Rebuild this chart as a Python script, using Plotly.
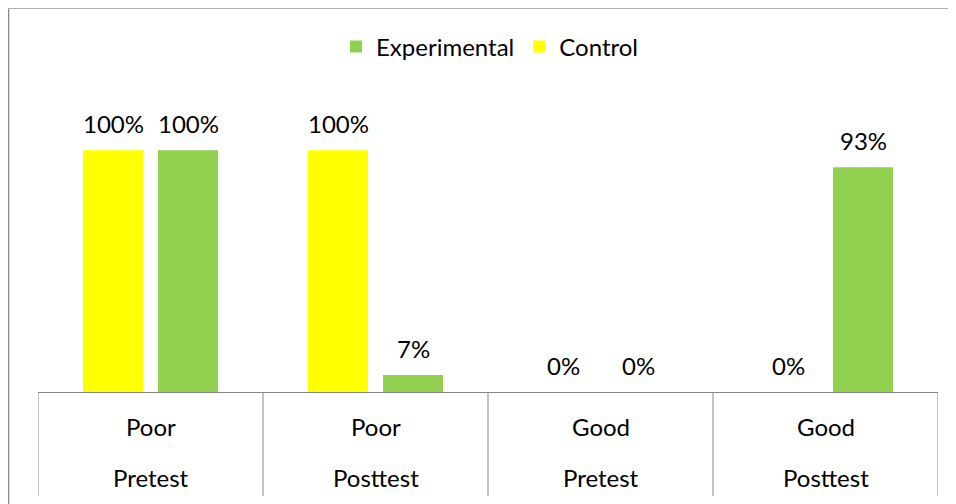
import plotly.graph_objects as go

level1 = ["Poor", "Poor", "Good", "Good"]
level2 = ["Pretest", "Posttest", "Pretest", "Posttest"]
control = [1.00, 1.00, 0.00, 0.00]
experimental = [1.00, 0.07, 0.00, 0.93]

keys = [f"{a} {b}" for a, b in zip(level1, level2)]

FONT = "Lato"
FS = 24
AX = "#868686"
OFF = 8  # page body margin
W, H = 956 - OFF, 504 - OFF
L, R, T, B = 38 - OFF, 18, 102 - OFF, 112
PW = W - L - R
PH = H - T - B  # plot height in px
AXIS_Y = 392  # page px of the category axis

def py(px):
    return (AXIS_Y - px) / PH

def pxx(px):
    return (px - 38) / PW

fig = go.Figure()
fig.add_trace(go.Bar(x=keys, y=control, name="Control", marker=dict(color="#FFFF00", line=dict(width=0))))
fig.add_trace(go.Bar(x=keys, y=experimental, name="Experimental", marker=dict(color="#92D050", line=dict(width=0))))

ann = []
for series, shift in ((control, -37.5), (experimental, 37.5)):
    for k, v in zip(keys, series):
        ann.append(dict(x=k, y=v, xref="x", yref="y", text=f"{round(v*100)}%", showarrow=False,
                        xshift=shift, yshift=27, yanchor="middle",
                        font=dict(family=FONT, size=FS, color="#000")))

for k, a, b in zip(keys, level1, level2):
    ann.append(dict(x=k, y=py(426), xref="x", yref="paper", text=a, showarrow=False, yanchor="middle",
                    font=dict(family=FONT, size=FS, color="#000")))
    ann.append(dict(x=k, y=py(477), xref="x", yref="paper", text=b, showarrow=False, yanchor="middle",
                    font=dict(family=FONT, size=FS, color="#000")))

shapes = []
for i in range(len(keys) + 1):
    shapes.append(dict(type="line", xref="x", yref="paper", x0=i - 0.5, x1=i - 0.5,
                       y0=0, y1=py(496), line=dict(color=AX, width=1)))
# chart border (left and top)
bx = pxx(8.5)
shapes.append(dict(type="line", xref="paper", yref="paper", x0=bx, x1=bx, y0=py(8.5), y1=py(520),
                   line=dict(color=AX, width=1.5)))
shapes.append(dict(type="line", xref="paper", yref="paper", x0=bx, x1=1.2, y0=py(8.5), y1=py(8.5),
                   line=dict(color="#b0b0b0", width=1)))

fig.update_layout(
    width=W, height=H,
    margin=dict(l=L, r=R, t=T, b=B),
    paper_bgcolor="white", plot_bgcolor="white",
    barmode="group", bargap=1/3, bargroupgap=0.2,
    showlegend=True,
    legend=dict(orientation="h", x=pxx(490), xanchor="center", y=py(47), yanchor="middle",
                traceorder="reversed", font=dict(family=FONT, size=FS, color="#000")),
    xaxis=dict(showline=True, linecolor=AX, linewidth=1, showticklabels=False, ticks="",
               showgrid=False, zeroline=False, range=[-0.5, 3.5]),
    yaxis=dict(range=[0, 1.2], visible=False, showgrid=False, zeroline=False),
    annotations=ann, shapes=shapes,
)

fig.write_html("out.html")
